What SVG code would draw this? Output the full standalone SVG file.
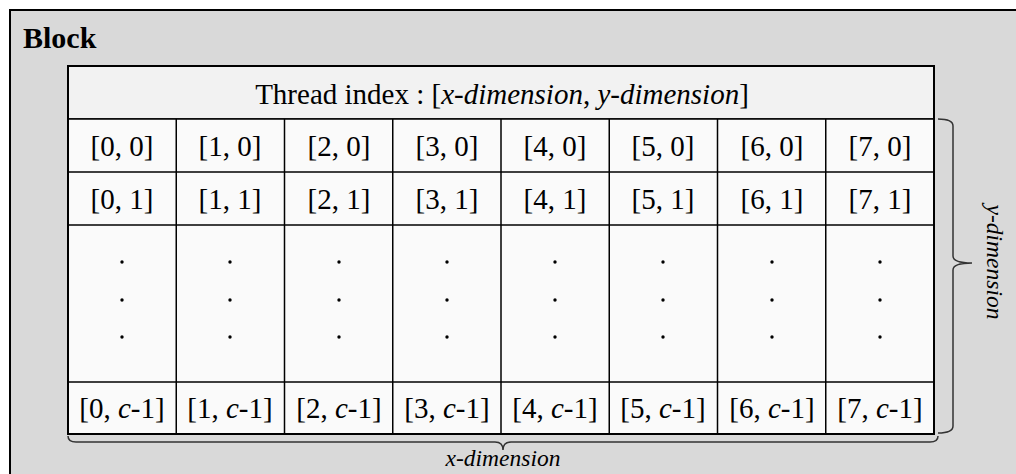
<svg xmlns="http://www.w3.org/2000/svg" width="1016" height="474" viewBox="0 0 1016 474">
<style>
.t{font-family:"Liberation Serif","Times New Roman",serif;font-size:29px;fill:#000;text-anchor:middle}
.i{font-style:italic}
.lbl{font-family:"Liberation Serif","Times New Roman",serif;font-size:23.5px;font-style:italic;fill:#000;text-anchor:middle}
.cell{fill:#fafafa;stroke:#000;stroke-width:1.5}
.brace{fill:none;stroke:#333;stroke-width:1.5}
</style>
<defs>
<circle id="dot" r="1.7" fill="#000"/>
</defs>
<g id="block">
<rect x="10" y="10" width="1020" height="480" fill="#d9d9d9" stroke="#000" stroke-width="2"/>
<text x="23" y="48" style="font-family:'Liberation Serif','Times New Roman',serif;font-size:30px;font-weight:bold">Block</text>
</g>
<g id="header">
<rect x="68" y="66" width="866" height="53" fill="#f2f2f2" stroke="#000" stroke-width="1.5"/>
<text class="t" x="502" y="104">Thread index : [<tspan class="i">x-dimension</tspan>, <tspan class="i">y-dimension</tspan>]</text>
</g>
<g id="grid">
<rect class="cell" x="68" y="119" width="866" height="315"/>
<g stroke="#000" stroke-width="1.5">
<line x1="68" y1="172" x2="934" y2="172"/>
<line x1="68" y1="225" x2="934" y2="225"/>
<line x1="68" y1="382" x2="934" y2="382"/>
<line x1="176.25" y1="119" x2="176.25" y2="434"/>
<line x1="284.5" y1="119" x2="284.5" y2="434"/>
<line x1="392.75" y1="119" x2="392.75" y2="434"/>
<line x1="501" y1="119" x2="501" y2="434"/>
<line x1="609.25" y1="119" x2="609.25" y2="434"/>
<line x1="717.5" y1="119" x2="717.5" y2="434"/>
<line x1="825.75" y1="119" x2="825.75" y2="434"/>
</g>
<rect x="68" y="66" width="866" height="368" fill="none" stroke="#000" stroke-width="2"/>
</g>
<g id="row0">
<text class="t" x="122" y="156">[0, 0]</text>
<text class="t" x="230" y="156">[1, 0]</text>
<text class="t" x="339" y="156">[2, 0]</text>
<text class="t" x="447" y="156">[3, 0]</text>
<text class="t" x="555" y="156">[4, 0]</text>
<text class="t" x="663" y="156">[5, 0]</text>
<text class="t" x="772" y="156">[6, 0]</text>
<text class="t" x="880" y="156">[7, 0]</text>
</g>
<g id="row1">
<text class="t" x="122" y="209">[0, 1]</text>
<text class="t" x="230" y="209">[1, 1]</text>
<text class="t" x="339" y="209">[2, 1]</text>
<text class="t" x="447" y="209">[3, 1]</text>
<text class="t" x="555" y="209">[4, 1]</text>
<text class="t" x="663" y="209">[5, 1]</text>
<text class="t" x="772" y="209">[6, 1]</text>
<text class="t" x="880" y="209">[7, 1]</text>
</g>
<g id="dots">
<use href="#dot" x="122" y="262"/><use href="#dot" x="122" y="300"/><use href="#dot" x="122" y="337"/>
<use href="#dot" x="230" y="262"/><use href="#dot" x="230" y="300"/><use href="#dot" x="230" y="337"/>
<use href="#dot" x="339" y="262"/><use href="#dot" x="339" y="300"/><use href="#dot" x="339" y="337"/>
<use href="#dot" x="447" y="262"/><use href="#dot" x="447" y="300"/><use href="#dot" x="447" y="337"/>
<use href="#dot" x="555" y="262"/><use href="#dot" x="555" y="300"/><use href="#dot" x="555" y="337"/>
<use href="#dot" x="663" y="262"/><use href="#dot" x="663" y="300"/><use href="#dot" x="663" y="337"/>
<use href="#dot" x="772" y="262"/><use href="#dot" x="772" y="300"/><use href="#dot" x="772" y="337"/>
<use href="#dot" x="880" y="262"/><use href="#dot" x="880" y="300"/><use href="#dot" x="880" y="337"/>
</g>
<g id="rowlast">
<text class="t" x="122" y="418">[0, <tspan class="i">c</tspan>-1]</text>
<text class="t" x="230" y="418">[1, <tspan class="i">c</tspan>-1]</text>
<text class="t" x="339" y="418">[2, <tspan class="i">c</tspan>-1]</text>
<text class="t" x="447" y="418">[3, <tspan class="i">c</tspan>-1]</text>
<text class="t" x="555" y="418">[4, <tspan class="i">c</tspan>-1]</text>
<text class="t" x="663" y="418">[5, <tspan class="i">c</tspan>-1]</text>
<text class="t" x="772" y="418">[6, <tspan class="i">c</tspan>-1]</text>
<text class="t" x="880" y="418">[7, <tspan class="i">c</tspan>-1]</text>
</g>
<g id="connectors">
<path class="brace" d="M938,119 Q953,119 953,126 L953,256 Q953,263 972,263 Q953,263 953,270 L953,426 Q953,433 938,433"/>
<path class="brace" d="M68,436 Q68,442 76,442 L495,442 Q503,442 503,450 Q503,442 511,442 L930,442 Q938,442 938,436"/>
</g>
<g id="labels">
<text class="lbl" x="503" y="466">x-dimension</text>
<text class="lbl" transform="translate(987,262) rotate(90)" x="0" y="0">y-dimension</text>
</g>
</svg>
